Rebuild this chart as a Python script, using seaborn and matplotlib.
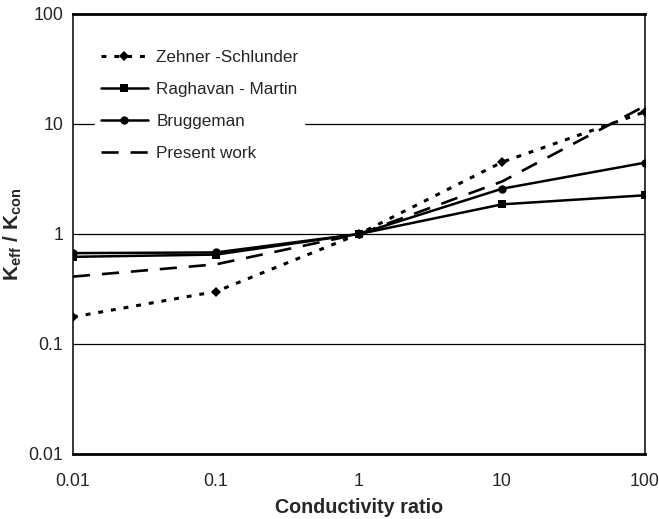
import matplotlib
matplotlib.use("Agg")
import matplotlib.pyplot as plt
import seaborn as sns
import pandas as pd
from matplotlib.ticker import FixedLocator, FixedFormatter, NullLocator

# Conductivity ratio (x) and effective/continuous conductivity ratio per model
ratio = [0.01, 0.1, 1, 10, 100]
zehner = [0.176, 0.30, 1.0, 4.5, 12.9]
raghavan = [0.62, 0.65, 1.0, 1.86, 2.25]
bruggeman = [0.67, 0.68, 1.0, 2.58, 4.45]
present_x = [0.01, 0.1, 1, 10, 100]
present = [0.41, 0.53, 1.0, 3.0, 14.6]

series_names = ["Zehner -Schlunder", "Raghavan - Martin", "Bruggeman", "Present work"]
y_ticks = [0.01, 0.1, 1, 10, 100]
y_tick_labels = ["0.01", "0.1", "1", "10", "100"]
x_tick_labels = ["0.01", "0.1", "1", "10", "100"]

sns.set_style("white")
plt.rcParams["font.family"] = ["Liberation Sans", "DejaVu Sans"]
plt.rcParams["mathtext.default"] = "regular"

df = pd.concat([
    pd.DataFrame({"x": ratio, "y": zehner, "model": series_names[0]}),
    pd.DataFrame({"x": ratio, "y": raghavan, "model": series_names[1]}),
    pd.DataFrame({"x": ratio, "y": bruggeman, "model": series_names[2]}),
    pd.DataFrame({"x": present_x, "y": present, "model": series_names[3]}),
])

fig = plt.figure(figsize=(6.59, 5.19), dpi=100)
ax = fig.add_axes([73 / 659, 65 / 519, (645 - 73) / 659, (454 - 14) / 519])

styles = {
    series_names[0]: dict(marker="D", markersize=5.5, linestyle=(0, (1.6, 2.6)), linewidth=2.2),
    series_names[1]: dict(marker="s", markersize=5.5, linestyle="-", linewidth=1.8),
    series_names[2]: dict(marker="o", markersize=6, linestyle="-", linewidth=1.8),
    series_names[3]: dict(marker=None, linestyle=(0, (6.5, 4.5)), linewidth=1.9),
}

for name in series_names:
    sub = df[df["model"] == name]
    sns.lineplot(data=sub, x="x", y="y", ax=ax, color="black", label=name,
                 estimator=None, sort=True, markeredgewidth=0, zorder=3,
                 **styles[name])

ax.set_xscale("log")
ax.set_yscale("log")
ax.set_xlim(0.01, 100)
ax.set_ylim(0.01, 100)

# horizontal gridlines at the inner decades
for yv in [0.1, 1, 10]:
    ax.axhline(yv, color="black", linewidth=0.9, zorder=1)

ax.yaxis.set_major_locator(FixedLocator(y_ticks))
ax.yaxis.set_major_formatter(FixedFormatter(y_tick_labels))
ax.yaxis.set_minor_locator(NullLocator())
ax.xaxis.set_major_locator(FixedLocator(ratio))
ax.xaxis.set_major_formatter(FixedFormatter(x_tick_labels))
ax.xaxis.set_minor_locator(NullLocator())

ax.tick_params(axis="both", which="major", direction="out", length=5, width=1,
               color="black", labelsize=12.8, pad=2)
ax.tick_params(axis="x", pad=8.5)

for side in ["left", "right"]:
    ax.spines[side].set_linewidth(1.1)
    ax.spines[side].set_color("black")
for side in ["top", "bottom"]:
    ax.spines[side].set_linewidth(2.0)
    ax.spines[side].set_color("black")

ax.set_xlabel("Conductivity ratio", fontsize=14.2, fontweight="bold", labelpad=6)
ax.set_ylabel(r"K$_{eff}$ / K$_{con}$", fontsize=15, fontweight="bold", labelpad=3)

leg = ax.legend(loc="upper left", bbox_to_anchor=(0.038, 0.931), frameon=True,
                fontsize=12.3, handlelength=2.75, handletextpad=0.5,
                labelspacing=0.98, borderpad=0.35, borderaxespad=0)
leg.get_frame().set_facecolor("white")
leg.get_frame().set_edgecolor("white")
leg.get_frame().set_alpha(1)
leg.get_frame().set_boxstyle("square", pad=0)
leg.set_zorder(5)

fig.savefig("out.png", dpi=100)
